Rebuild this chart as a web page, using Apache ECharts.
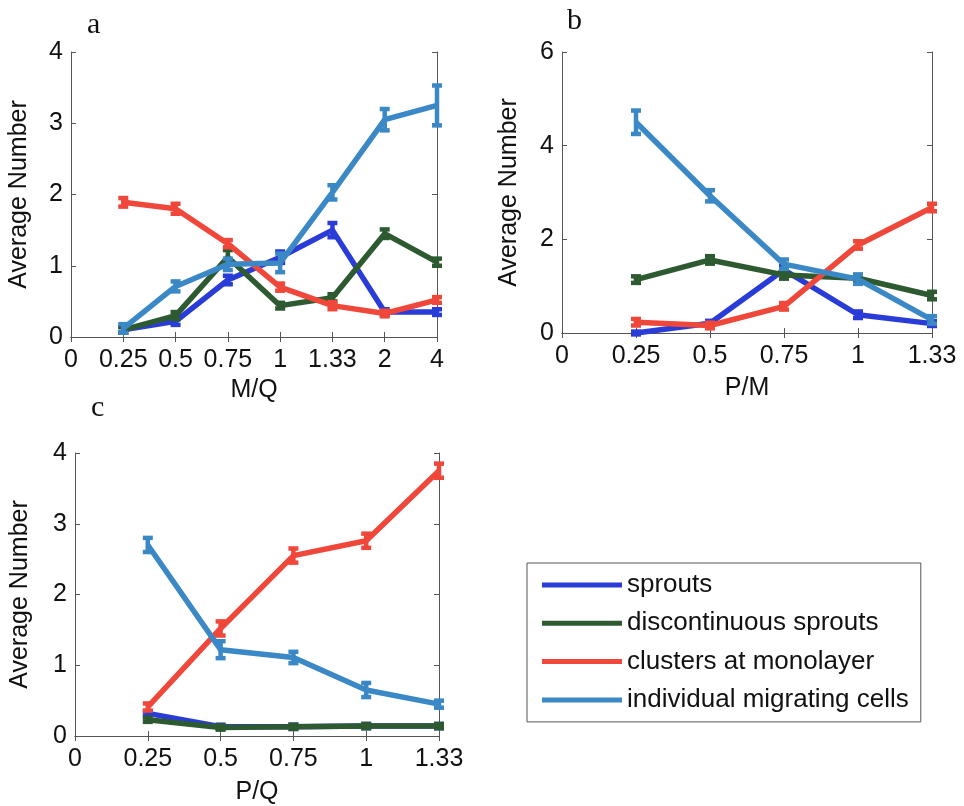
<!DOCTYPE html>
<html>
<head>
<meta charset="utf-8">
<script src="https://cdn.jsdelivr.net/npm/echarts@6/dist/echarts.min.js"></script>
<style>
  html, body { margin: 0; padding: 0; background: #fff; }
  #chart { width: 964px; height: 806px; }
</style>
</head>
<body>
<div id="chart"></div>
<script>
// x categories (tick labels)
const catsA = ['0', '0.25', '0.5', '0.75', '1', '1.33', '2', '4']
const catsBC = ['0', '0.25', '0.5', '0.75', '1', '1.33']

const seriesNames = ['sprouts', 'discontinuous sprouts', 'clusters at monolayer', 'individual migrating cells']
const seriesColors = ['#2a3cd8', '#2e5a32', '#f0473b', '#3b88c6']

// panel a : M/Q (values from 0.25 on)
const aSprouts = [0.10, 0.22, 0.80, 1.12, 1.50, 0.35, 0.35]
const aDisc = [0.10, 0.30, 1.12, 0.44, 0.55, 1.45, 1.05]
const aClusters = [1.89, 1.80, 1.31, 0.70, 0.44, 0.33, 0.52]
const aIndiv = [0.12, 0.71, 1.02, 1.04, 2.03, 3.05, 3.25]
const aSproutsErr = [0.04, 0.05, 0.06, 0.08, 0.10, 0.04, 0.04]
const aDiscErr = [0.04, 0.05, 0.10, 0.04, 0.05, 0.06, 0.05]
const aClustersErr = [0.06, 0.07, 0.05, 0.05, 0.05, 0.04, 0.04]
const aIndivErr = [0.06, 0.07, 0.08, 0.13, 0.10, 0.15, 0.28]

// panel b : P/M
const bSprouts = [0.00, 0.21, 1.35, 0.39, 0.20]
const bDisc = [1.14, 1.56, 1.24, 1.17, 0.80]
const bClusters = [0.23, 0.16, 0.57, 1.88, 2.68]
const bIndiv = [4.50, 2.93, 1.47, 1.15, 0.28]
const bSproutsErr = [0.03, 0.05, 0.08, 0.07, 0.05]
const bDiscErr = [0.07, 0.08, 0.08, 0.07, 0.08]
const bClustersErr = [0.07, 0.06, 0.07, 0.08, 0.08]
const bIndivErr = [0.25, 0.12, 0.10, 0.10, 0.08]

// panel c : P/Q
const cSprouts = [0.32, 0.13, 0.13, 0.14, 0.14]
const cDisc = [0.23, 0.12, 0.13, 0.14, 0.14]
const cClusters = [0.41, 1.52, 2.55, 2.76, 3.75]
const cIndiv = [2.70, 1.22, 1.11, 0.65, 0.45]
const cSproutsErr = [0.03, 0.03, 0.03, 0.03, 0.03]
const cDiscErr = [0.03, 0.03, 0.03, 0.03, 0.03]
const cClustersErr = [0.05, 0.10, 0.10, 0.10, 0.10]
const cIndivErr = [0.10, 0.12, 0.08, 0.10, 0.05]

const panels = [
  { cats: catsA, name: 'M/Q', yMax: 4, yStep: 1, nameGap: 41, yNameGap: 39,
    grid: { left: 71, top: 52, width: 366, height: 285 },
    values: [aSprouts, aDisc, aClusters, aIndiv], errs: [aSproutsErr, aDiscErr, aClustersErr, aIndivErr] },
  { cats: catsBC, name: 'P/M', yMax: 6, yStep: 2, nameGap: 43, yNameGap: 40,
    grid: { left: 562, top: 52, width: 370, height: 281 },
    values: [bSprouts, bDisc, bClusters, bIndiv], errs: [bSproutsErr, bDiscErr, bClustersErr, bIndivErr] },
  { cats: catsBC, name: 'P/Q', yMax: 4, yStep: 1, nameGap: 44, yNameGap: 42,
    grid: { left: 75, top: 453, width: 364, height: 283 },
    values: [cSprouts, cDisc, cClusters, cIndiv], errs: [cSproutsErr, cDiscErr, cClustersErr, cIndivErr] }
]

const FONT = 'Liberation Sans, Arial, Helvetica, sans-serif'
const boxLine = { show: true, lineStyle: { color: '#555', width: 1 } }
const tick = { show: true, inside: true, length: 5, lineStyle: { color: '#555' } }

// error bars: vertical line with caps
function renderErr(params, api) {
  const x = api.value(0)
  const p1 = api.coord([x, api.value(1)])
  const p2 = api.coord([x, api.value(2)])
  const w = 5
  const style = { stroke: api.visual('color'), lineWidth: 4.5 }
  return {
    type: 'group',
    children: [
      { type: 'line', shape: { x1: p1[0], y1: p1[1], x2: p2[0], y2: p2[1] }, style },
      { type: 'line', shape: { x1: p1[0] - w, y1: p1[1], x2: p1[0] + w, y2: p1[1] }, style },
      { type: 'line', shape: { x1: p2[0] - w, y1: p2[1], x2: p2[0] + w, y2: p2[1] }, style }
    ]
  }
}

const grids = []
const xAxes = []
const yAxes = []
const series = []

panels.forEach((p, g) => {
  grids.push(p.grid)
  xAxes.push({
    gridIndex: g, type: 'category', data: p.cats, boundaryGap: false, position: 'bottom',
    axisLine: boxLine, axisTick: tick, splitLine: { show: false },
    axisLabel: { interval: 0, fontSize: 25, color: '#111', fontFamily: FONT, margin: 11 },
    name: p.name, nameLocation: 'middle', nameGap: p.nameGap,
    nameTextStyle: { fontSize: 25, color: '#111', fontFamily: FONT }
  })
  xAxes.push({
    gridIndex: g, type: 'category', data: p.cats, boundaryGap: false, position: 'top',
    axisLine: boxLine, axisTick: tick, axisLabel: { show: false }, splitLine: { show: false }
  })
  yAxes.push({
    gridIndex: g, type: 'value', min: 0, max: p.yMax, interval: p.yStep, position: 'left',
    axisLine: boxLine, axisTick: tick, splitLine: { show: false },
    axisLabel: { fontSize: 25, color: '#111', fontFamily: FONT, margin: 8 },
    name: 'Average Number', nameLocation: 'middle', nameGap: p.yNameGap,
    nameTextStyle: { fontSize: 25, color: '#111', fontFamily: FONT }
  })
  yAxes.push({
    gridIndex: g, type: 'value', min: 0, max: p.yMax, interval: p.yStep, position: 'right',
    axisLine: boxLine, axisTick: tick, axisLabel: { show: false }, splitLine: { show: false }
  })

  p.values.forEach((vals, k) => {
    const color = seriesColors[k]
    series.push({
      name: seriesNames[k], type: 'line', xAxisIndex: g * 2, yAxisIndex: g * 2,
      data: vals.map((v, i) => [p.cats[i + 1], v]),
      showSymbol: false, lineStyle: { width: 5.5, color: color }, itemStyle: { color: color },
      z: 2 + k, animation: false
    })
    series.push({
      name: seriesNames[k], type: 'custom', xAxisIndex: g * 2, yAxisIndex: g * 2,
      renderItem: renderErr, itemStyle: { color: color },
      encode: { x: 0, y: [1, 2] },
      data: vals.map((v, i) => [p.cats[i + 1], v - p.errs[k][i], v + p.errs[k][i]]),
      z: 2 + k, animation: false
    })
  })
})

const letterStyle = { fontFamily: 'Liberation Serif, Times New Roman, serif', fontSize: 30, fontWeight: 'normal', color: '#111' }

const chart = echarts.init(document.getElementById('chart'))
chart.setOption({
  backgroundColor: '#fff',
  animation: false,
  title: [
    { text: 'a', left: 87, top: 10, textStyle: letterStyle, padding: 0 },
    { text: 'b', left: 567, top: 6, textStyle: letterStyle, padding: 0 },
    { text: 'c', left: 91, top: 393, textStyle: letterStyle, padding: 0 }
  ],
  legend: {
    data: seriesNames, orient: 'vertical', left: 527, top: 563,
    icon: 'rect', itemWidth: 80, itemHeight: 5, itemGap: 10.3, itemTextGap: 8,
    padding: [8, 12, 8, 15], borderColor: '#555', borderWidth: 1, backgroundColor: '#fff',
    textStyle: { fontSize: 26, color: '#111', fontFamily: FONT, lineHeight: 28 }
  },
  grid: grids,
  xAxis: xAxes,
  yAxis: yAxes,
  series: series
})
</script>
</body>
</html>
